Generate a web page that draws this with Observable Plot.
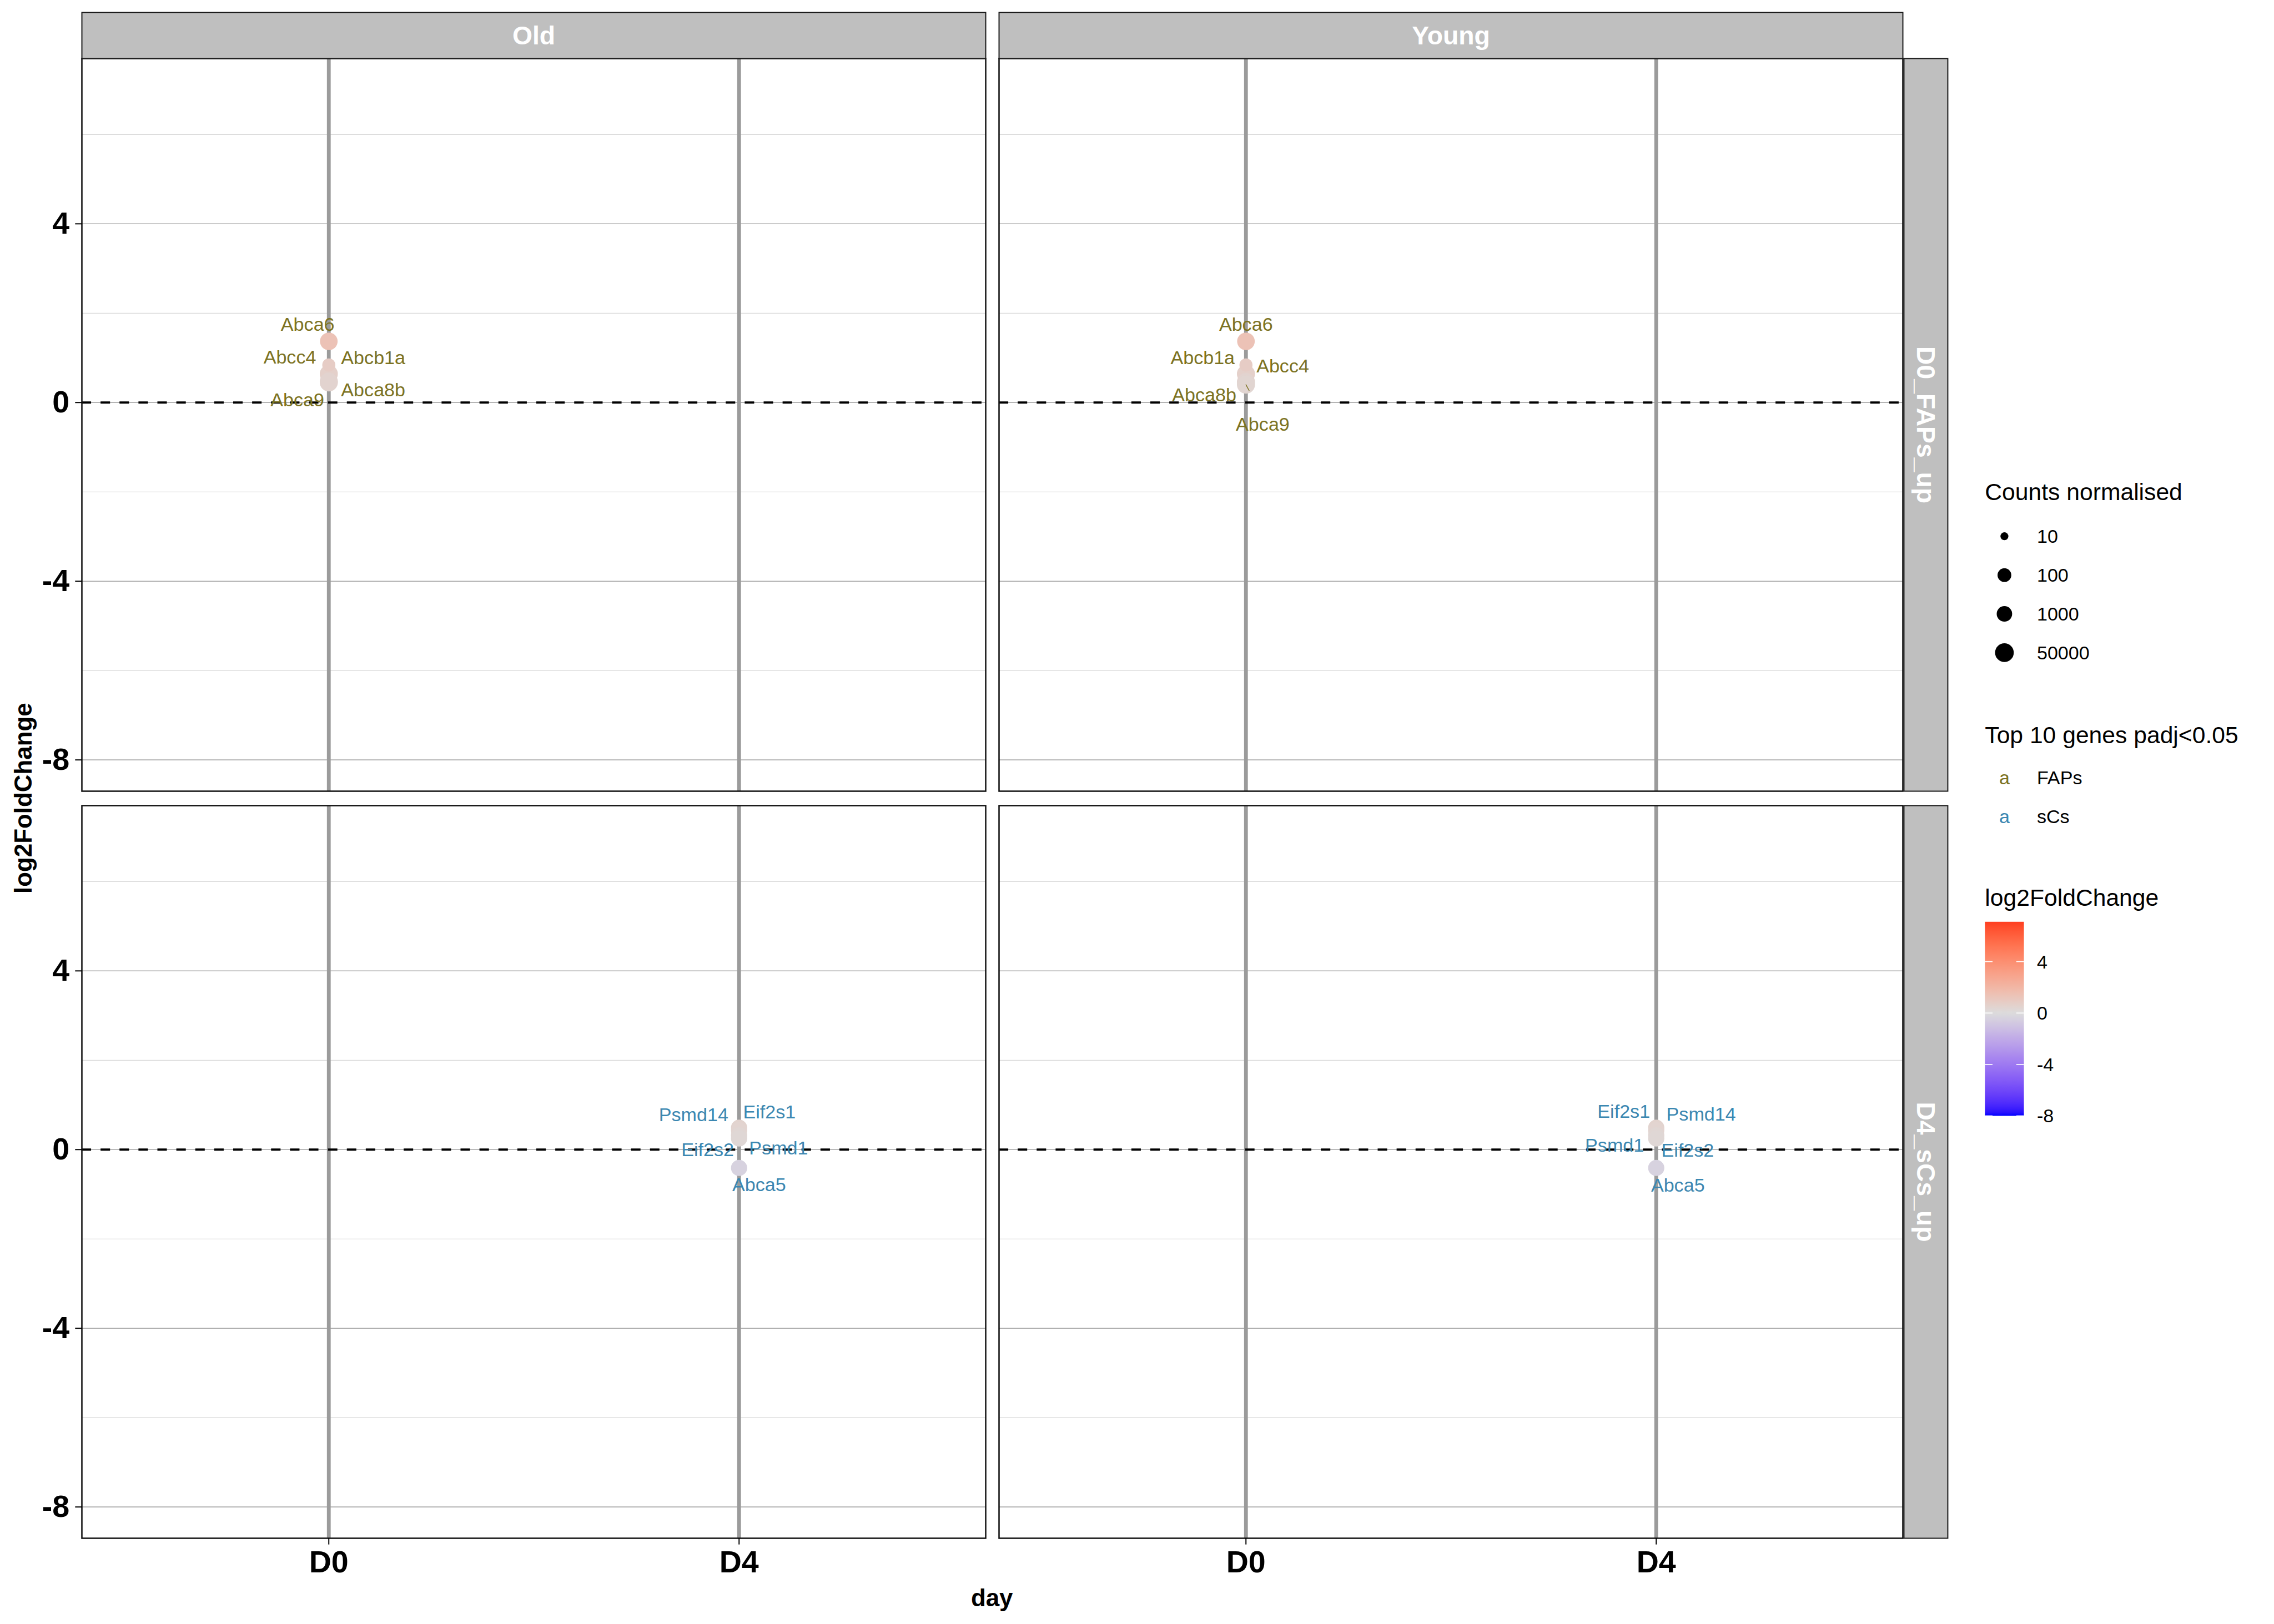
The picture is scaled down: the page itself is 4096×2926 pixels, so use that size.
<!DOCTYPE html>
<html>
<head>
<meta charset="utf-8">
<script src="https://cdn.jsdelivr.net/npm/d3@7"></script>
<script src="https://cdn.jsdelivr.net/npm/@observablehq/plot@0.6"></script>
<style>
html, body { margin: 0; padding: 0; background: #ffffff; }
#chart { width: 4096px; height: 2926px; overflow: hidden; position: relative; }
</style>
</head>
<body>
<div id="chart"></div>
<script>
// ---------------- DATA ----------------
const ages = ["Old", "Young"];
const groups = ["D0_FAPs_up", "D4_sCs_up"];
const days = ["D0", "D4"];
const cellTypes = ["FAPs", "sCs"];
const cellColors = ["#7C7222", "#3B87B1"];

const fapGenes = ["Abca6", "Abcb1a", "Abcc4", "Abca8b", "Abca9"];
const fapLfcOld = [1.37, 0.84, 0.64, 0.45, 0.47];
const fapLfcYoung = [1.37, 0.84, 0.64, 0.46, 0.40];
const fapCounts = [33000, 90, 40000, 40000, 40000];

const scGenes = ["Eif2s1", "Psmd14", "Psmd1", "Eif2s2", "Abca5"];
const scLfcOld = [0.49, 0.43, 0.32, 0.25, -0.41];
const scLfcYoung = [0.49, 0.43, 0.32, 0.25, -0.41];
const scCounts = [12000, 12000, 12000, 12000, 12000];

const yMajorTicks = [4, 0, -4, -8];
const yMinorTicks = [6, 2, -2, -6];
const sizeBreaks = [10, 100, 1000, 50000];
const colorTicks = [4, 0, -4, -8];
const lfcRange = [-8, 7.1];

// ---------------- LAYOUT / STYLE ----------------
const S = 0.975;
const W = 4096, H = 2926;
const FONT = "'Liberation Sans', Arial, Helvetica, sans-serif";
const panelLeft = 150 * S, panelRight = 3515 * S, panelTop = 107 * S, panelBottom = 2843 * S;
const colGap = 25 * S, rowGap = 27 * S;
const fxPad = colGap / ((panelRight - panelLeft + colGap) / 2);
const fyPad = rowGap / ((panelBottom - panelTop + rowGap) / 2);
const yDomain = [-8.70, 7.70];
const rRange = [7.3, 12.7, 14.3, 17.3].map(v => v * S);
const colorOpts = {type: "linear", domain: [-8, 0, 8], range: ["#0000ff", "#dcdcdc", "#ff0000"], interpolate: d3.interpolateLab};
const rOpts = {type: "linear", domain: sizeBreaks, range: rRange};
const fmt = d => String(d);

// label nudges (repel result), reference pixels, per panel in gene order
const nudges = {
  "Old|D0_FAPs_up":   [[-39, -30.5], [82, -13], [-72, -30], [82, 14], [-58, 35]],
  "Young|D0_FAPs_up": [[0, -30.5], [-80, -13], [68, -14], [-77, 24], [31, 73.5]],
  "Old|D4_sCs_up":    [[56, -28], [-84, -28], [73, 24], [-58, 21], [37, 32]],
  "Young|D4_sCs_up":  [[-60, -29], [83, -29], [-77, 19], [58, 22], [40, 33]]
};
// leader segment (ggrepel) for Young / Abca9
const leaders = [{key: "Young|D0_FAPs_up", gene: "Abca9", dx: 28, dy: 52}];

// ---------------- BUILD ROWS ----------------
const panels = [
  {age: "Old", group: "D0_FAPs_up", day: "D0", cell: 0, genes: fapGenes, lfc: fapLfcOld, counts: fapCounts},
  {age: "Young", group: "D0_FAPs_up", day: "D0", cell: 0, genes: fapGenes, lfc: fapLfcYoung, counts: fapCounts},
  {age: "Old", group: "D4_sCs_up", day: "D4", cell: 1, genes: scGenes, lfc: scLfcOld, counts: scCounts},
  {age: "Young", group: "D4_sCs_up", day: "D4", cell: 1, genes: scGenes, lfc: scLfcYoung, counts: scCounts}
];
const rows = panels.flatMap(p => p.genes.map((g, i) => ({
  age: p.age, group: p.group, day: p.day, cell: cellTypes[p.cell], color: cellColors[p.cell],
  gene: g, lfc: p.lfc[i], counts: p.counts[i],
  nx: nudges[p.age + "|" + p.group][i][0], ny: nudges[p.age + "|" + p.group][i][1]
})));

const labelMarks = rows.map(r => Plot.text([r], {
  fx: "age", fy: "group", x: "day", y: "lfc", text: "gene",
  fill: r.color, fontSize: 35 * S, dx: r.nx * S, dy: r.ny * S
}));

const leaderMarks = leaders.map(l => {
  const row = rows.find(r => (r.age + "|" + r.group) === l.key && r.gene === l.gene);
  const len = Math.hypot(l.dx, l.dy) * S;
  const ang = Math.atan2(l.dx, -l.dy) * 180 / Math.PI;
  return Plot.vector([row], {
    fx: "age", fy: "group", x: "day", y: "lfc", length: () => len, rotate: ang,
    anchor: "start", stroke: row.color, strokeWidth: 1.4,
    shape: {draw(context, len) { context.moveTo(0, 0); context.lineTo(0, -len); }}
  });
});

const plot = Plot.plot({
  width: W, height: H,
  marginLeft: panelLeft, marginRight: W - panelRight, marginTop: panelTop, marginBottom: H - panelBottom,
  style: {fontFamily: FONT, background: "#ffffff", overflow: "visible"},
  fx: {domain: ages, paddingInner: fxPad, paddingOuter: 0, axis: null, label: null},
  fy: {domain: groups, paddingInner: fyPad, paddingOuter: 0, axis: null, label: null},
  x: {type: "point", domain: days, padding: 0.6, label: null},
  y: {domain: yDomain, label: null},
  color: colorOpts,
  r: rOpts,
  marks: [
    Plot.ruleY(yMinorTicks, {stroke: "#d8d8d8", strokeWidth: 1.2}),
    Plot.ruleY(yMajorTicks, {stroke: "#a8a8a8", strokeWidth: 1.6}),
    Plot.ruleX(days, {stroke: "#9b9b9b", strokeWidth: 7 * S}),
    Plot.ruleY([0], {stroke: "#000000", strokeWidth: 4.3 * S, strokeDasharray: `${17.5 * S},${17.5 * S}`}),
    Plot.dot(rows, {fx: "age", fy: "group", x: "day", y: "lfc", r: "counts", fill: "lfc"}),
    ...leaderMarks,
    ...labelMarks,
    Plot.frame({stroke: "#111111", strokeWidth: 2.6 * S}),
    Plot.axisY(yMajorTicks, {anchor: "left", tickSize: 12 * S, tickPadding: 11 * S, tickFormat: fmt, fontSize: 57 * S, fontWeight: "bold", color: "black", strokeWidth: 2, label: null}),
    Plot.axisX(days, {anchor: "bottom", tickSize: 12 * S, tickPadding: 11 * S, fontSize: 57 * S, fontWeight: "bold", color: "black", strokeWidth: 2, label: null})
  ]
});

document.getElementById("chart").appendChild(plot);
const svg = d3.select(plot);

// ---------------- FACET STRIPS ----------------
const svgBox = plot.getBoundingClientRect();
let frames = Array.from(plot.querySelectorAll('g[aria-label="frame"] rect')).map(r => {
  const b = r.getBoundingClientRect();
  return {x: b.left - svgBox.left, y: b.top - svgBox.top, w: b.width, h: b.height};
});
let colBoxes, rowBoxes;
if (frames.length >= 4) {
  const uniq = (arr, k) => {
    const out = [];
    arr.slice().sort((a, b) => a[k] - b[k]).forEach(f => { if (!out.length || Math.abs(out[out.length - 1][k] - f[k]) > 5) out.push(f); });
    return out;
  };
  colBoxes = uniq(frames, "x").map(f => ({x: f.x, w: f.w}));
  rowBoxes = uniq(frames, "y").map(f => ({y: f.y, h: f.h}));
} else {
  const bw = (panelRight - panelLeft - colGap) / 2, bh = (panelBottom - panelTop - rowGap) / 2;
  colBoxes = [{x: panelLeft, w: bw}, {x: panelLeft + bw + colGap, w: bw}];
  rowBoxes = [{y: panelTop, h: bh}, {y: panelTop + bh + rowGap, h: bh}];
}
const stripTop = 23 * S;
const strips = svg.append("g").attr("aria-label", "strips").attr("text-anchor", "middle");
colBoxes.forEach((c, i) => {
  strips.append("rect").attr("x", c.x).attr("y", stripTop).attr("width", c.w).attr("height", rowBoxes[0].y - stripTop)
    .attr("fill", "#bfbfbf").attr("stroke", "#1a1a1a").attr("stroke-width", 2);
  strips.append("text").attr("x", c.x + c.w / 2).attr("y", (stripTop + rowBoxes[0].y) / 2)
    .attr("text-anchor", "middle").attr("dominant-baseline", "central")
    .attr("font-family", FONT).attr("font-weight", "bold").attr("font-size", 47.5 * S).attr("fill", "#ffffff")
    .text(ages[i]);
});
const lastCol = colBoxes[colBoxes.length - 1];
const rsX = lastCol.x + lastCol.w + 2 * S, rsW = 81 * S;
rowBoxes.forEach((r, j) => {
  strips.append("rect").attr("x", rsX).attr("y", r.y).attr("width", rsW).attr("height", r.h)
    .attr("fill", "#bfbfbf").attr("stroke", "#1a1a1a").attr("stroke-width", 2);
  strips.append("text").attr("transform", `translate(${rsX + rsW / 2},${r.y + r.h / 2}) rotate(90)`)
    .attr("text-anchor", "middle").attr("dominant-baseline", "central")
    .attr("font-family", FONT).attr("font-weight", "bold").attr("font-size", 47.5 * S).attr("fill", "#ffffff")
    .text(groups[j]);
});

// ---------------- AXIS TITLES ----------------
svg.append("text").attr("x", (panelLeft + panelRight) / 2).attr("y", 2952 * S)
  .attr("text-anchor", "middle").attr("dominant-baseline", "central")
  .attr("font-family", FONT).attr("font-weight", "bold").attr("font-size", 45 * S).attr("fill", "#000")
  .text("day");
svg.append("text").attr("transform", `translate(${43 * S},${(panelTop + panelBottom) / 2}) rotate(-90)`)
  .attr("text-anchor", "middle").attr("dominant-baseline", "central")
  .attr("font-family", FONT).attr("font-weight", "bold").attr("font-size", 45 * S).attr("fill", "#000")
  .text("log2FoldChange");

// ---------------- LEGENDS ----------------
const rScale = Plot.scale({r: rOpts});
const cScale = Plot.scale({color: colorOpts});
const legX = 3667 * S, keyX = 3703 * S, labX = 3763 * S;
const titleSize = 43.75 * S, labSize = 35 * S;
const leg = svg.append("g").attr("aria-label", "legends").attr("font-family", FONT).attr("text-anchor", "start");

// size legend
leg.append("text").attr("x", legX).attr("y", 909 * S).attr("dominant-baseline", "central").attr("text-anchor", "start")
  .attr("font-size", titleSize).attr("fill", "#000").text("Counts normalised");
sizeBreaks.forEach((v, i) => {
  const y = (991 + i * 71.7) * S;
  leg.append("circle").attr("cx", keyX).attr("cy", y).attr("r", rScale.apply(v)).attr("fill", "#000");
  leg.append("text").attr("x", labX).attr("y", y).attr("dominant-baseline", "central").attr("text-anchor", "start")
    .attr("font-size", labSize).attr("fill", "#000").text(String(v));
});

// text colour legend
leg.append("text").attr("x", legX).attr("y", 1358 * S).attr("dominant-baseline", "central").attr("text-anchor", "start")
  .attr("font-size", titleSize).attr("fill", "#000").text("Top 10 genes padj<0.05");
cellTypes.forEach((c, i) => {
  const y = (1437 + i * 71.5) * S;
  leg.append("text").attr("x", keyX).attr("y", y).attr("text-anchor", "middle").attr("dominant-baseline", "central")
    .attr("font-size", labSize).attr("fill", cellColors[i]).text("a");
  leg.append("text").attr("x", labX).attr("y", y).attr("dominant-baseline", "central").attr("text-anchor", "start")
    .attr("font-size", labSize).attr("fill", "#000").text(c);
});

// colour bar
leg.append("text").attr("x", legX).attr("y", 1658 * S).attr("dominant-baseline", "central").attr("text-anchor", "start")
  .attr("font-size", titleSize).attr("fill", "#000").text("log2FoldChange");
const barX = 3667 * S, barW = 72 * S;
const barScale = d3.scaleLinear().domain([-8, 4]).range([2062 * S, 1777 * S]);
const barTop = barScale(lfcRange[1]), barBot = barScale(lfcRange[0]);
const defs = svg.append("defs");
const grad = defs.append("linearGradient").attr("id", "lfcgrad").attr("x1", 0).attr("y1", 1).attr("x2", 0).attr("y2", 0);
d3.range(0, 61).forEach(k => {
  const t = k / 60;
  const v = lfcRange[0] + t * (lfcRange[1] - lfcRange[0]);
  grad.append("stop").attr("offset", t).attr("stop-color", cScale.apply(v));
});
leg.append("rect").attr("x", barX).attr("y", barTop).attr("width", barW).attr("height", barBot - barTop)
  .attr("fill", "url(#lfcgrad)");
colorTicks.forEach(v => {
  const y = barScale(v);
  leg.append("line").attr("x1", barX).attr("x2", barX + 14 * S).attr("y1", y).attr("y2", y).attr("stroke", "#fff").attr("stroke-width", 1.6);
  leg.append("line").attr("x1", barX + barW - 14 * S).attr("x2", barX + barW).attr("y1", y).attr("y2", y).attr("stroke", "#fff").attr("stroke-width", 1.6);
  leg.append("text").attr("x", labX).attr("y", y).attr("dominant-baseline", "central").attr("text-anchor", "start")
    .attr("font-size", labSize).attr("fill", "#000").text(fmt(v));
});
</script>
</body>
</html>
